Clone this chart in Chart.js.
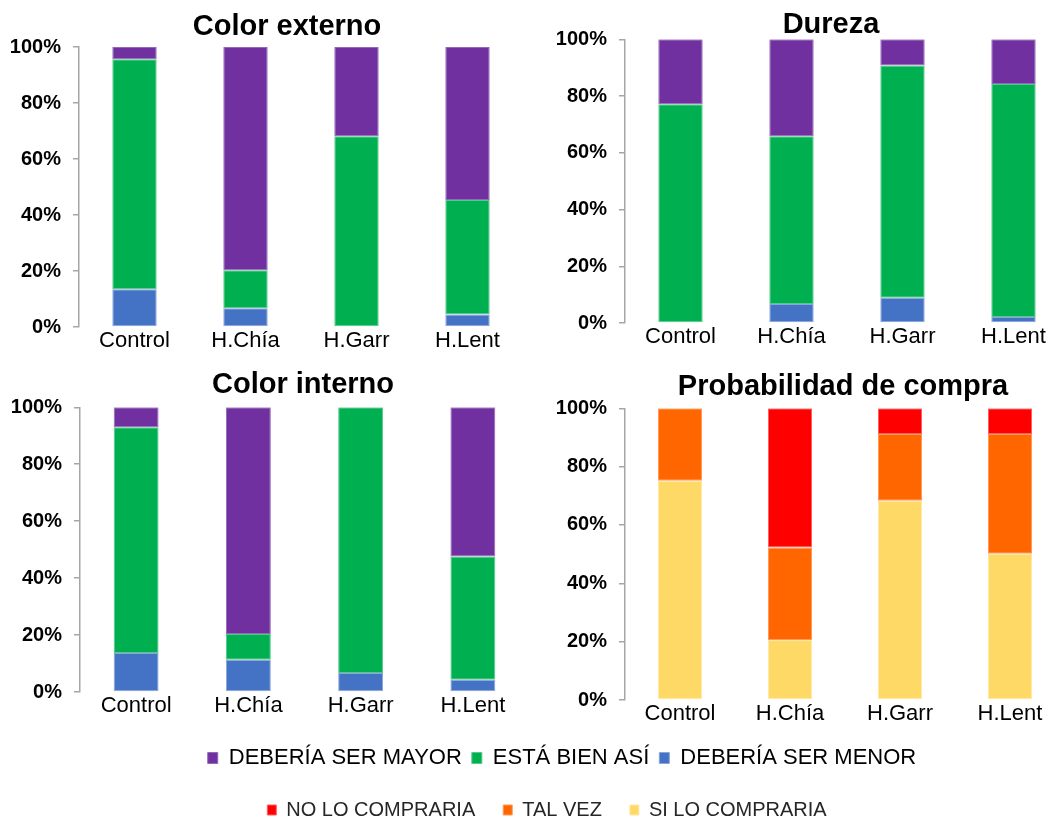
<!DOCTYPE html>
<html>
<head>
<meta charset="utf-8">
<title>Evaluación sensorial</title>
<script src="https://cdn.jsdelivr.net/npm/chart.js@4.4.1/dist/chart.umd.min.js"></script>
<style>
  html, body { margin: 0; padding: 0; background: #fff; width: 1062px; height: 823px; overflow: hidden; }
  canvas { position: absolute; }
</style>
</head>
<body>
<canvas id="cExterno" width="574" height="357" style="left:0;top:0"></canvas>
<canvas id="cDureza" width="562" height="353" style="left:550px;top:0"></canvas>
<canvas id="cInterno" width="606" height="362" style="left:0;top:360px"></canvas>
<canvas id="cCompra" width="586" height="370" style="left:550px;top:360px"></canvas>
<canvas id="legendA" width="1062" height="110" style="left:0;top:737px"></canvas>
<canvas id="legendB" width="1062" height="180" style="left:0;top:772px"></canvas>

<script>
// categories and tick labels
const categories = ['Control', 'H.Chía', 'H.Garr', 'H.Lent'];
const yTicks = [0, 20, 40, 60, 80, 100];

// Color externo (%)
const externoMenor = [13.5, 6.7, 0, 4.5];
const externoBien = [82.1, 13.6, 68.1, 40.9];
const externoMayor = [4.4, 79.7, 31.9, 54.6];

// Dureza (%)
const durezaMenor = [0, 6.7, 8.9, 2.1];
const durezaBien = [77.1, 59.1, 81.9, 82.1];
const durezaMayor = [22.9, 34.2, 9.2, 15.8];

// Color interno (%)
const internoMenor = [13.7, 11.3, 6.7, 4.3];
const internoBien = [79.3, 9.1, 93.3, 43.3];
const internoMayor = [7.0, 79.6, 0, 52.4];

// Probabilidad de compra (%)
const compraSi = [75.2, 20.6, 68.3, 50.1];
const compraTalVez = [24.8, 31.7, 22.9, 41.1];
const compraNo = [0, 47.7, 8.8, 8.8];

// series names
const lblMayor = 'DEBERÍA SER MAYOR';
const lblBien = 'ESTÁ BIEN ASÍ';
const lblMenor = 'DEBERÍA SER MENOR';
const lblNo = 'NO LO COMPRARIA';
const lblTalVez = 'TAL VEZ';
const lblSi = 'SI LO COMPRARIA';

const colors = {
  mayor: ['#7030A0', '#9466BC'],
  bien: ['#00B050', '#55C98A'],
  menor: ['#4472C4', '#8AA5DA'],
  no: ['#FF0000', '#FF6060'],
  talvez: ['#FF6600', '#FF9A5A'],
  si: ['#FFD966', '#FFE8A8']
};

Chart.defaults.font.family = "'Liberation Sans', Arial, sans-serif";
Chart.defaults.color = '#000';
Chart.defaults.animation = false;

function series(label, values, c) {
  const data = values;
  return {
    label,
    data,
    backgroundColor: c[0],
    borderColor: c[1],
    borderWidth: 1,
    borderSkipped: false,
    categoryPercentage: 1,
    barPercentage: 0.4
  };
}

// one stacked 100% bar panel
function buildPanel(id, titleText, sets, cfg) {
  const data = { labels: categories, datasets: sets };
  return new Chart(document.getElementById(id), {
    type: 'bar',
    data,
    options: {
      responsive: false,
      plugins: {
        legend: { display: false },
        tooltip: { enabled: false },
        title: {
          display: true,
          text: titleText,
          color: '#000',
          font: { size: 29, weight: 'bold', lineHeight: 1 },
          padding: { top: cfg.titleTop, bottom: cfg.titleBottom }
        }
      },
      scales: {
        x: {
          stacked: true,
          grid: { display: false },
          border: { display: false },
          ticks: { font: { size: 22 }, padding: -7, maxRotation: 0 },
          afterFit: s => { s.height = 30; }
        },
        y: {
          stacked: true,
          min: 0,
          max: 100,
          afterBuildTicks: s => { s.ticks = yTicks.map(v => ({ value: v })); },
          grid: { drawOnChartArea: false, drawTicks: true, tickLength: 6, color: '#A6A6A6', lineWidth: 1.5 },
          border: { display: true, color: '#A6A6A6', width: 1.5 },
          ticks: { font: { size: 20, weight: 'bold' }, padding: 12, callback: v => v + '%' },
          afterFit: s => { s.width = cfg.yWidth; }
        },
        // empty spacer on the right, keeps the title centred on the whole panel
        spacer: {
          type: 'linear',
          position: 'right',
          grid: { display: false },
          border: { display: false },
          ticks: { display: false },
          afterFit: s => { s.width = cfg.padRight; }
        }
      }
    }
  });
}

// legend-only chart, shares the series styles
function buildLegend(id, sets, cfg) {
  const data = { labels: [], datasets: sets };
  return new Chart(document.getElementById(id), {
    type: 'bar',
    data,
    options: {
      responsive: false,
      layout: { padding: { left: cfg.padLeft } },
      scales: { x: { display: false }, y: { display: false } },
      plugins: {
        tooltip: { enabled: false },
        legend: {
          display: true,
          position: 'top',
          labels: {
            color: cfg.color,
            font: { size: cfg.size },
            boxWidth: cfg.boxW,
            boxHeight: cfg.boxH,
            padding: cfg.pad
          }
        }
      }
    }
  });
}

buildPanel('cExterno', 'Color externo', [
  series(lblMenor, externoMenor, colors.menor),
  series(lblBien, externoBien, colors.bien),
  series(lblMayor, externoMayor, colors.mayor)
], { yWidth: 79, padRight: 51, titleTop: 12.5, titleBottom: 5.5 });

buildPanel('cDureza', 'Dureza', [
  series(lblMenor, durezaMenor, colors.menor),
  series(lblBien, durezaBien, colors.bien),
  series(lblMayor, durezaMayor, colors.mayor)
], { yWidth: 75, padRight: 43, titleTop: 10, titleBottom: 0.3 });

buildPanel('cInterno', 'Color interno', [
  series(lblMenor, internoMenor, colors.menor),
  series(lblBien, internoBien, colors.bien),
  series(lblMayor, internoMayor, colors.mayor)
], { yWidth: 80, padRight: 77, titleTop: 10.8, titleBottom: 7.5 });

buildPanel('cCompra', 'Probabilidad de compra', [
  series(lblSi, compraSi, colors.si),
  series(lblTalVez, compraTalVez, colors.talvez),
  series(lblNo, compraNo, colors.no)
], { yWidth: 75, padRight: 71, titleTop: 12.5, titleBottom: 6.8 });

buildLegend('legendA', [
  series(lblMayor, [], colors.mayor),
  series(lblBien, [], colors.bien),
  series(lblMenor, [], colors.menor)
], { padLeft: 62, size: 22, boxW: 10, boxH: 11, pad: 10, color: '#000' });

buildLegend('legendB', [
  series(lblNo, [], colors.no),
  series(lblTalVez, [], colors.talvez),
  series(lblSi, [], colors.si)
], { padLeft: 32, size: 20, boxW: 9, boxH: 10, pad: 28, color: '#262626' });
</script>
</body>
</html>
